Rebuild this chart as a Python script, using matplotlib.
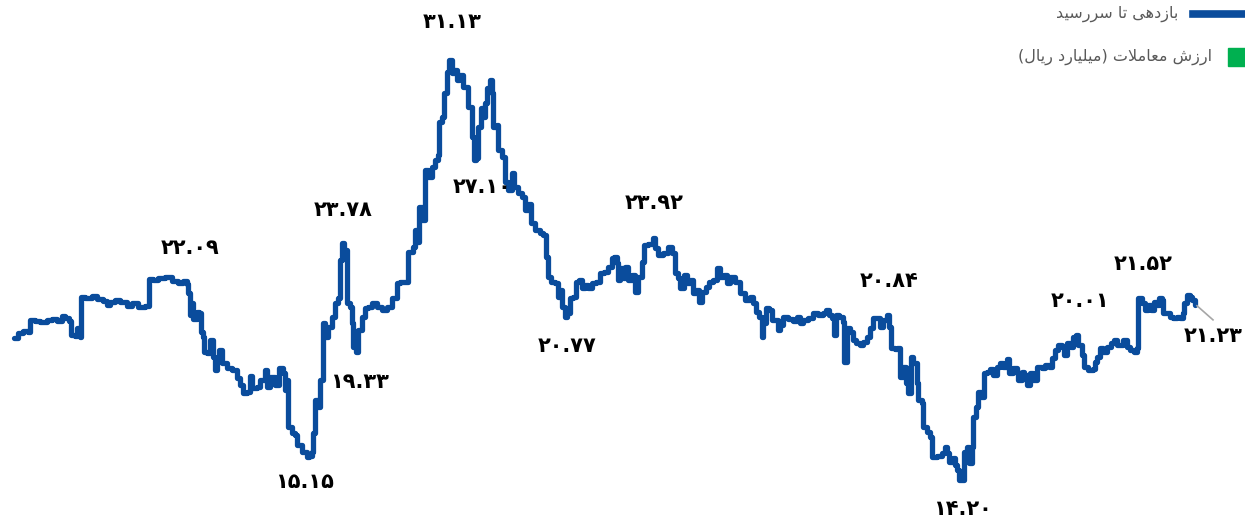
import matplotlib
matplotlib.use('Agg')
import matplotlib.pyplot as plt
from matplotlib.lines import Line2D
from matplotlib.patches import Rectangle

# yield-to-maturity series (trading day index, percent)
days = [0, 4, 9, 14, 16, 21, 26, 33, 38, 43, 48, 51, 55, 57, 61, 63, 66, 67, 71, 78,
        83, 89, 93, 96, 101, 106, 113, 118, 124, 131, 133, 135, 139, 144, 151, 158, 164, 169, 173, 174,
        176, 178, 179, 183, 185, 187, 189, 190, 193, 196, 199, 201, 203, 205, 208, 213, 218, 221, 223, 226,
        229, 233, 236, 238, 243, 246, 251, 253, 256, 261, 265, 269, 271, 273, 274, 278, 281, 283, 288, 293,
        295, 298, 299, 301, 304, 306, 309, 311, 314, 318, 321, 324, 326, 328, 330, 333, 336, 338, 339, 342,
        344, 348, 351, 354, 358, 363, 368, 373, 378, 383, 386, 392, 394, 399, 401, 403, 405, 408, 410, 411,
        414, 418, 421, 424, 425, 428, 430, 433, 435, 438, 440, 443, 445, 449, 454, 458, 460, 462, 464, 467,
        469, 471, 473, 476, 478, 479, 483, 484, 488, 491, 494, 498, 500, 504, 508, 511, 514, 517, 521, 526,
        529, 532, 534, 537, 541, 544, 547, 548, 551, 553, 556, 559, 562, 565, 568, 571, 574, 578, 582, 586,
        590, 594, 598, 600, 603, 604, 606, 609, 611, 614, 618, 621, 624, 628, 630, 634, 639, 641, 644, 649,
        654, 658, 661, 664, 666, 670, 673, 676, 679, 682, 685, 688, 692, 695, 699, 703, 706, 710, 713, 716,
        721, 726, 731, 736, 739, 742, 745, 748, 749, 752, 755, 758, 761, 764, 766, 769, 774, 779, 783, 786,
        789, 794, 799, 804, 809, 812, 815, 818, 820, 822, 825, 829, 830, 833, 836, 839, 842, 846, 849, 853,
        856, 859, 863, 866, 869, 873, 875, 877, 881, 883, 886, 889, 892, 894, 897, 899, 903, 904, 908, 909,
        913, 916, 918, 923, 928, 931, 933, 935, 939, 941, 943, 945, 948, 950, 953, 955, 958, 959, 962, 964,
        967, 970, 973, 976, 979, 983, 986, 989, 993, 995, 999, 1003, 1004, 1008, 1010, 1013, 1016, 1019, 1023, 1028,
        1031, 1035, 1038, 1041, 1044, 1048, 1050, 1053, 1057, 1059, 1062, 1064, 1068, 1070, 1074, 1079, 1081, 1083, 1086, 1089,
        1093, 1097, 1100, 1103, 1106, 1109, 1113, 1116, 1120, 1123, 1124, 1128, 1131, 1134, 1137, 1140, 1143, 1145, 1148, 1149,
        1153, 1156, 1159, 1163, 1166, 1169, 1170, 1173, 1176, 1178, 1181]
ytm = [19.92, 20.12, 20.20, 20.16, 20.65, 20.61, 20.57, 20.65, 20.69, 20.61, 20.81, 20.73, 20.61, 20.04, 20.00, 20.33, 19.96, 21.58, 21.53, 21.62,
       21.49, 21.41, 21.25, 21.37, 21.45, 21.37, 21.21, 21.33, 21.17, 21.21, 21.21, 22.30, 22.26, 22.34, 22.38, 22.22, 22.14, 22.22, 22.10, 21.74,
       20.85, 21.33, 20.69, 20.97, 20.93, 20.16, 19.96, 19.36, 19.32, 19.84, 19.16, 18.63, 19.03, 19.44, 18.91, 18.71, 18.63, 18.63, 18.31, 18.03,
       17.70, 17.74, 18.39, 17.91, 17.95, 18.23, 18.63, 17.95, 18.35, 18.03, 18.71, 18.51, 17.82, 18.23, 16.33, 16.09, 16.01, 15.61, 15.33, 15.13,
       15.17, 15.33, 16.09, 17.42, 17.14, 18.23, 20.53, 19.96, 20.37, 20.77, 21.33, 21.53, 23.07, 23.75, 23.47, 21.33, 21.17, 20.53, 19.56, 19.36,
       20.24, 20.77, 21.13, 21.17, 21.33, 21.17, 21.05, 21.17, 21.53, 22.14, 22.18, 22.18, 23.39, 23.59, 24.28, 23.79, 25.20, 24.68, 24.68, 26.70,
       26.41, 26.82, 27.10, 27.30, 28.63, 28.83, 29.80, 30.65, 31.13, 30.61, 30.73, 30.32, 30.53, 30.04, 29.24, 28.03, 27.10, 27.18, 28.43, 29.20,
       28.83, 29.40, 30.00, 30.32, 29.80, 28.43, 28.51, 27.50, 27.22, 26.21, 25.89, 26.57, 26.01, 25.77, 25.61, 25.08, 25.33, 24.56, 24.28, 24.16,
       24.07, 23.19, 22.38, 22.18, 22.14, 21.58, 21.86, 21.17, 20.77, 20.93, 21.53, 21.58, 22.18, 22.26, 21.94, 22.06, 21.94, 22.14, 22.18, 22.54,
       22.58, 22.79, 23.15, 23.19, 22.95, 22.26, 22.74, 22.34, 22.79, 22.26, 22.46, 21.78, 22.38, 22.99, 23.67, 23.71, 23.95, 23.55, 23.27, 23.35,
       23.59, 23.35, 22.54, 22.34, 21.94, 22.46, 22.14, 22.26, 21.74, 21.86, 21.37, 21.78, 21.98, 22.18, 22.26, 22.74, 22.38, 22.46, 22.14, 22.38,
       22.18, 21.74, 21.45, 21.58, 21.33, 20.97, 20.77, 19.96, 20.53, 21.13, 21.05, 20.65, 20.65, 20.24, 20.45, 20.77, 20.69, 20.61, 20.77, 20.53,
       20.65, 20.73, 20.93, 20.85, 20.93, 21.05, 20.85, 20.73, 20.04, 20.85, 20.77, 20.57, 18.95, 20.33, 20.16, 19.84, 19.72, 19.64, 19.76, 19.96,
       20.33, 20.73, 20.73, 20.37, 20.65, 20.85, 20.37, 19.52, 19.48, 19.52, 18.35, 18.75, 18.11, 17.70, 19.16, 18.91, 18.11, 17.42, 17.30, 16.33,
       16.13, 15.93, 15.13, 15.17, 15.29, 15.53, 15.29, 14.93, 15.09, 14.81, 14.60, 14.20, 14.20, 15.33, 15.53, 14.89, 15.53, 16.74, 17.14, 17.74,
       17.54, 18.51, 18.55, 18.67, 18.43, 18.75, 18.91, 18.75, 19.07, 18.51, 18.71, 18.55, 18.23, 18.55, 18.43, 18.03, 18.51, 18.23, 18.75, 18.71,
       18.83, 18.75, 19.11, 19.44, 19.64, 19.56, 19.24, 19.72, 19.56, 19.96, 20.04, 19.64, 19.24, 18.75, 18.63, 18.67, 18.95, 19.16, 19.52, 19.36,
       19.56, 19.72, 19.84, 19.64, 19.64, 19.84, 19.56, 19.44, 19.36, 19.52, 21.53, 21.33, 21.05, 21.25, 21.05, 21.37, 21.25, 21.53, 21.45, 20.93,
       20.93, 20.77, 20.73, 20.77, 20.73, 20.93, 21.33, 21.66, 21.58, 21.45, 21.23]

# labelled values (Persian digits) and where their text sits
label_text = ['۲۲.۰۹', '۲۳.۷۸', '۱۹.۳۳', '۱۵.۱۵', '۳۱.۱۳', '۲۷.۱۰', '۲۰.۷۷',
              '۲۳.۹۲', '۲۰.۸۴', '۱۴.۲۰', '۲۰.۰۱', '۲۱.۵۲', '۲۱.۲۳']
label_day = [176, 329, 346, 291, 438, 468, 553, 640, 875, 948, 1066, 1129, 1199]
label_val = [23.55, 25.08, 18.15, 14.11, 32.66, 26.01, 19.60, 25.36, 22.22, 13.03, 21.41, 22.90, 20.00]

# legend entries, pre-shaped Arabic presentation forms in visual order
LEG_YTM = '\uFEAA\uFEF4\uFEB3\uFEAD\uFEAE\uFEB3 \uFE8E\uFE97 \uFEF0\uFEEB\uFEA9\uFEAF\uFE8E\uFE91'
LEG_VAL = ('(\uFEDD\uFE8E\uFEF3\uFEAD \uFEA9\uFEAD\uFE8E\uFEF4\uFEE0\uFEF4\uFEE3) '
           '\uFE95\uFEFC\uFEE3\uFE8E\uFECC\uFEE3 \uFEB5\uFEAF\uFEAD\uFE8D')

BLUE = '#0A4C9C'
GREEN = '#00B050'

fig = plt.figure(figsize=(12.45, 5.18), dpi=100)
ax = fig.add_axes([0, 0, 1, 1])
ax.plot(days, ytm, color=BLUE, lw=3.8, drawstyle='steps-post',
        solid_joinstyle='round', solid_capstyle='round')
ax.set_xlim(-14, 1231)
ax.set_ylim(12.66, 33.55)
ax.axis('off')

for t, d, v in zip(label_text, label_day, label_val):
    ax.text(d, v, t, ha='center', va='center', fontsize=15, fontweight='bold',
            family=['DejaVu Sans'], color='black')

# leader line to the last value
ax.plot([1183, 1199], [21.22, 20.65], color='#A6A6A6', lw=1.2)

# legend drawn by hand (clipped at the right edge like the original)
fig.add_artist(Line2D([1193 / 1245, 1.0], [1 - 14 / 518, 1 - 14 / 518], color=BLUE, lw=5.5,
                      transform=fig.transFigure))
fig.text(1178 / 1245, 1 - 14 / 518, LEG_YTM, ha='right', va='center', fontsize=11.5,
         color='#595959', family=['DejaVu Sans'])
fig.add_artist(Rectangle((1228 / 1245, 1 - 66 / 518), 18 / 1245, 18 / 518, color=GREEN,
                         transform=fig.transFigure))
fig.text(1212 / 1245, 1 - 57 / 518, LEG_VAL, ha='right', va='center', fontsize=11.5,
         color='#595959', family=['DejaVu Sans'])

fig.savefig('out.png', dpi=100)
